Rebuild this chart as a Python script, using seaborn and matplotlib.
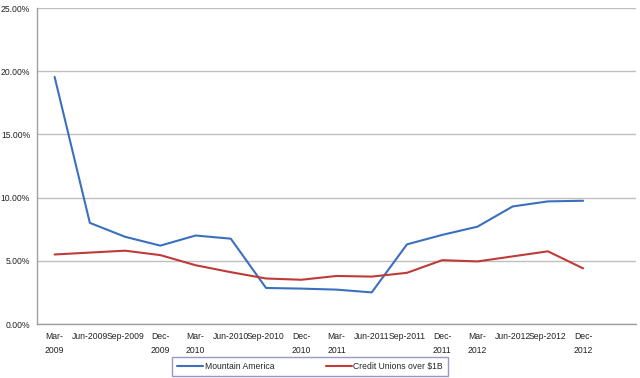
import numpy as np
import pandas as pd
import matplotlib
matplotlib.use("Agg")
import matplotlib.pyplot as plt
import seaborn as sns
from matplotlib.ticker import FuncFormatter, FixedLocator

# data
quarters = ["Mar-\n2009", "Jun-2009", "Sep-2009", "Dec-\n2009", "Mar-\n2010", "Jun-2010",
            "Sep-2010", "Dec-\n2010", "Mar-\n2011", "Jun-2011", "Sep-2011", "Dec-\n2011",
            "Mar-\n2012", "Jun-2012", "Sep-2012", "Dec-\n2012"]
mountain_america = [19.55, 8.0, 6.9, 6.2, 7.0, 6.75, 2.85, 2.8, 2.72, 2.5,
                    6.3, 7.05, 7.7, 9.3, 9.7, 9.75]
credit_unions_1b = [5.5, 5.65, 5.8, 5.45, 4.65, 4.1, 3.6, 3.5, 3.8, 3.75,
                    4.05, 5.05, 4.95, 5.35, 5.75, 4.4]
series_names = ["Mountain America", "Credit Unions over $1B"]
colors = ["#3A70BC", "#BE3B38"]

df = pd.DataFrame({
    "pos": list(range(len(quarters))) * 2,
    "value": mountain_america + credit_unions_1b,
    "series": [series_names[0]] * len(quarters) + [series_names[1]] * len(quarters),
})

sns.set_style("white")
plt.rcParams["font.family"] = ["Liberation Sans", "DejaVu Sans"]
fs = 6.2

fig = plt.figure(figsize=(6.4, 3.78), dpi=100)
ax = fig.add_axes([37 / 640, 1 - 324 / 378, 599 / 640, 316 / 378])

sns.lineplot(data=df, x="pos", y="value", hue="series", palette=colors,
             linewidth=1.5, ax=ax, legend=True)

ax.set_xlim(-0.5, 16.5)
ax.set_ylim(0, 25)
ax.set_yticks(np.arange(0, 26, 5))
ax.yaxis.set_major_formatter(FuncFormatter(lambda v, _: f"{v:.2f}%"))
ax.grid(axis="y", color="#BFBFBF", linewidth=1)
ax.set_axisbelow(True)

ax.set_xticks(range(len(quarters)))
ax.set_xticklabels(quarters, fontsize=fs, linespacing=1.6, color="#222222")
ax.xaxis.set_minor_locator(FixedLocator(np.arange(-0.5, 17, 1)))
ax.tick_params(axis="x", which="major", length=0, pad=6)
ax.tick_params(axis="x", which="minor", length=3, color="#A0A0A0", width=1)
ax.tick_params(axis="y", length=3, color="#A0A0A0", labelsize=fs, labelcolor="#222222", pad=2)
ax.set_xlabel("")
ax.set_ylabel("")

for side in ["top", "right"]:
    ax.spines[side].set_visible(False)
for side in ["left", "bottom"]:
    ax.spines[side].set_color("#A0A0A0")
    ax.spines[side].set_linewidth(1)

handles, labels = ax.get_legend_handles_labels()
ax.legend_.remove()
leg = fig.legend(handles, labels, loc="center", bbox_to_anchor=(310 / 640, 1 - 366.5 / 378),
                 ncol=2, fontsize=fs, frameon=True, fancybox=False,
                 handlelength=3.0, columnspacing=6, borderpad=0.6, handletextpad=0.2,
                 borderaxespad=0)
leg.get_frame().set_edgecolor("#7F7FBF")
leg.get_frame().set_linewidth(1)

fig.savefig("out.png", dpi=100)
